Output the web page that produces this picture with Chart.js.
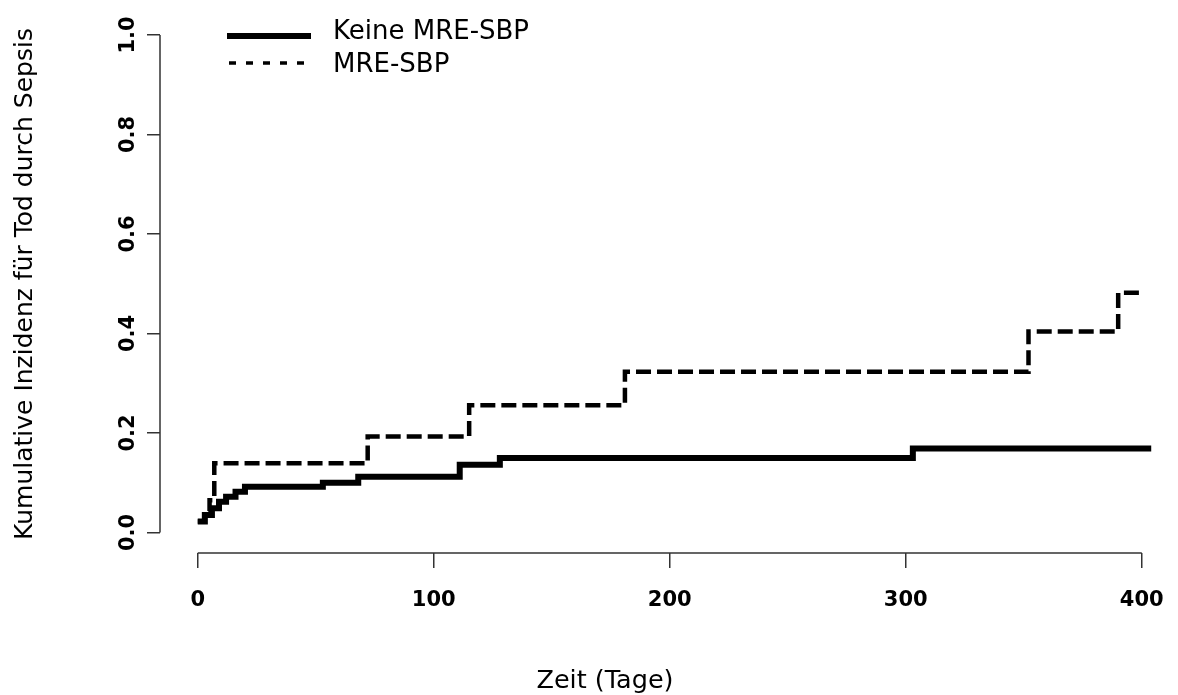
<!DOCTYPE html>
<html lang="de">
<head>
<meta charset="UTF-8">
<title>Kumulative Inzidenz für Tod durch Sepsis</title>
<script src="https://cdn.jsdelivr.net/npm/chart.js"></script>
<style>
  body { margin: 0; background: #fff; }
  #wrap { width: 1178px; height: 695px; position: relative; }
</style>
</head>
<body>
<div id="wrap"><canvas id="kmChart"></canvas></div>
<script>
// Zeitpunkte (Tage) und kumulative Inzidenz
const keineTage  = [0, 3, 6, 9, 12, 16, 20, 53, 68, 111, 128, 303, 404];
const keineWerte = [0.022, 0.035, 0.049, 0.062, 0.072, 0.082, 0.092, 0.100, 0.112, 0.136, 0.150, 0.169, 0.169];
const mreTage    = [0, 3, 5, 7, 72, 115, 181, 352, 390, 400];
const mreWerte   = [0.022, 0.043, 0.065, 0.139, 0.193, 0.256, 0.323, 0.404, 0.482, 0.482];
const seriesLabels = ['Keine MRE-SBP', 'MRE-SBP'];
const xTicks = [0, 100, 200, 300, 400];
const yTicks = [0, 0.2, 0.4, 0.6, 0.8, 1.0];
const xTitle = 'Zeit (Tage)';
const yTitle = 'Kumulative Inzidenz für Tod durch Sepsis';

Chart.defaults.font.family = 'DejaVu Sans';
Chart.defaults.color = '#000';

function toPoints(tage, werte) {
  return tage.map((t, i) => ({ x: t, y: werte[i] }));
}

// R-artige Achsen (nur von erstem bis letztem Tick), Legende und x-Titel
const rAxes = {
  id: 'rAxes',
  afterDraw(chart) {
    const { ctx, chartArea, scales: { x, y } } = chart;
    ctx.save();
    ctx.strokeStyle = '#333';
    ctx.lineWidth = 1.5;
    ctx.beginPath();
    ctx.moveTo(x.getPixelForValue(xTicks[0]), chartArea.bottom);
    ctx.lineTo(x.getPixelForValue(xTicks[xTicks.length - 1]), chartArea.bottom);
    ctx.moveTo(chartArea.left, y.getPixelForValue(yTicks[0]));
    ctx.lineTo(chartArea.left, y.getPixelForValue(yTicks[yTicks.length - 1]));
    ctx.stroke();

    // Legende oben links
    ctx.strokeStyle = '#000';
    ctx.lineWidth = 6;
    ctx.beginPath();
    ctx.moveTo(227, 36);
    ctx.lineTo(311, 36);
    ctx.stroke();
    ctx.lineWidth = 3.5;
    ctx.setLineDash([7, 10]);
    ctx.beginPath();
    ctx.moveTo(229, 63);
    ctx.lineTo(311, 63);
    ctx.stroke();
    ctx.setLineDash([]);

    ctx.fillStyle = '#000';
    ctx.font = '26px "DejaVu Sans"';
    ctx.textAlign = 'left';
    ctx.textBaseline = 'alphabetic';
    ctx.fillText(seriesLabels[0], 333, 39);
    ctx.fillText(seriesLabels[1], 333, 72);

    ctx.font = '25.5px "DejaVu Sans"';
    ctx.textAlign = 'center';
    ctx.fillText(xTitle, 605, 688);
    ctx.restore();
  }
};

const ctx = document.getElementById('kmChart').getContext('2d');
const kmChart = new Chart(ctx, {
  type: 'line',
  data: {
    datasets: [
      {
        label: seriesLabels[0],
        data: toPoints(keineTage, keineWerte),
        borderColor: '#000',
        borderWidth: 6,
        stepped: true,
        pointRadius: 0,
        fill: false
      },
      {
        label: seriesLabels[1],
        data: toPoints(mreTage, mreWerte),
        borderColor: '#000',
        borderWidth: 4.5,
        borderDash: [15, 6],
        stepped: true,
        pointRadius: 0,
        fill: false
      }
    ]
  },
  options: {
    responsive: true,
    maintainAspectRatio: false,
    animation: false,
    layout: { padding: { top: 15, right: 2, bottom: 0, left: 0 } },
    plugins: {
      legend: { display: false },
      tooltip: { enabled: false }
    },
    scales: {
      x: {
        type: 'linear',
        min: -16,
        max: 414.5,
        afterBuildTicks: (axis) => { axis.ticks = xTicks.map(v => ({ value: v })); },
        afterFit: (axis) => {
          axis.height = 142;
          axis.paddingLeft = 0;
          axis.paddingRight = 0;
        },
        ticks: {
          padding: 20,
          maxRotation: 0,
          font: { size: 21, weight: 'bold' },
          callback: (v) => String(v)
        },
        grid: {
          drawOnChartArea: false,
          drawTicks: true,
          tickLength: 15,
          color: '#333',
          lineWidth: 1.5
        },
        border: { display: false }
      },
      y: {
        min: -0.0412,
        max: 1.0402,
        afterBuildTicks: (axis) => { axis.ticks = yTicks.map(v => ({ value: v })); },
        afterFit: (axis) => { axis.width = 160; },
        ticks: {
          padding: 0,
          minRotation: 90,
          maxRotation: 90,
          crossAlign: 'center',
          font: { size: 21, weight: 'bold' },
          callback: (v) => Number(v).toFixed(1)
        },
        grid: {
          drawOnChartArea: false,
          drawTicks: true,
          tickLength: 13,
          color: '#333',
          lineWidth: 1.5
        },
        border: { display: false },
        title: {
          display: true,
          text: yTitle,
          font: { size: 25 },
          padding: { top: 10, bottom: 0 }
        }
      }
    }
  },
  plugins: [rAxes]
});
</script>
</body>
</html>
